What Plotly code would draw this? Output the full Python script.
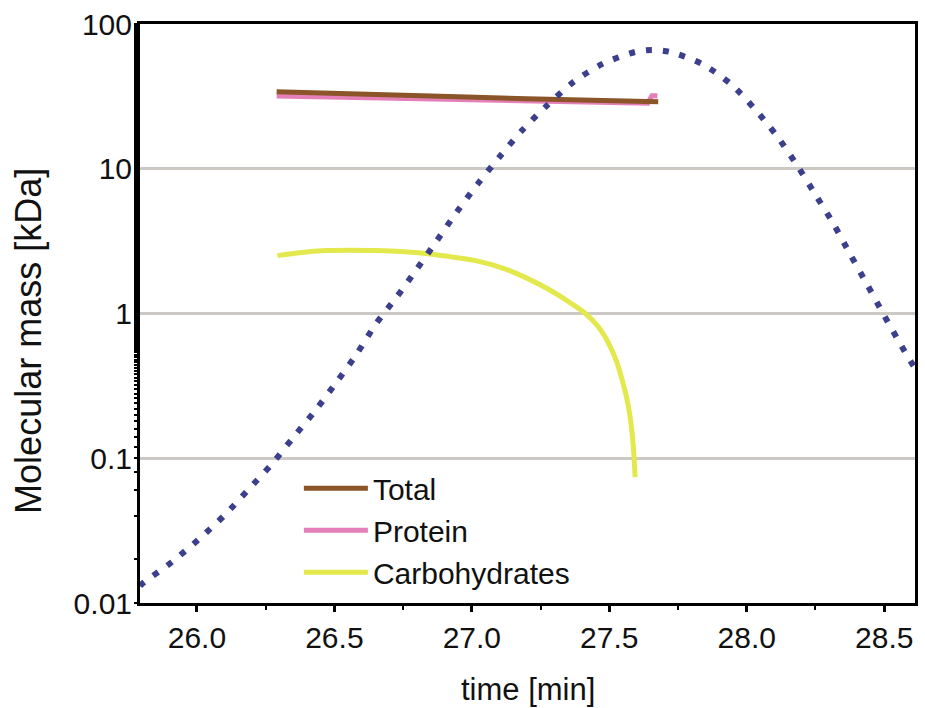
import plotly.graph_objects as go

# Retention-time axis (min) and molecular-mass estimates (kDa)
total_t = [26.29, 26.50, 26.75, 26.95, 27.20, 27.45, 27.678]
total_m = [34.0, 33.0, 32.2, 31.4, 30.5, 29.7, 29.0]

protein_t = [26.29, 26.50, 26.75, 26.95, 27.20, 27.45, 27.64, 27.655, 27.675]
protein_m = [31.8, 31.2, 30.5, 29.9, 29.3, 28.8, 28.4, 32.0, 32.0]

carb_t = [26.293, 26.38, 26.471, 26.56, 26.652, 26.74, 26.833, 26.92, 27.014, 27.109,
          27.196, 27.279, 27.351, 27.413, 27.460, 27.496, 27.525, 27.543, 27.562,
          27.576, 27.587, 27.594]
carb_m = [2.51, 2.64, 2.72, 2.74, 2.72, 2.68, 2.60, 2.47, 2.32, 2.07,
          1.77, 1.47, 1.21, 1.00, 0.81, 0.631, 0.474, 0.368, 0.268,
          0.192, 0.123, 0.074]

# Refractive-index trace (arbitrary units, log scale)
ri_t = [25.793, 25.804, 25.909, 26.007, 26.101, 26.185, 26.272, 26.351, 26.431, 26.507,
        26.580, 26.652, 26.728, 26.801, 26.873, 26.946, 27.022, 27.101, 27.185, 27.272,
        27.370, 27.475, 27.594, 27.656, 27.721, 27.837, 27.942, 28.029, 28.109, 28.181,
        28.250, 28.315, 28.377, 28.438, 28.500, 28.562, 28.594, 28.612]
ri_v = [0.0131, 0.01374, 0.0192, 0.0276, 0.0405, 0.0601, 0.0910, 0.1396, 0.2143, 0.334,
        0.521, 0.853, 1.31, 2.04, 3.19, 5.05, 7.88, 12.1, 18.6, 27.2,
        39.8, 53.0, 64.1, 66.2, 64.1, 53.0, 38.5, 25.9, 16.9, 10.7,
        6.62, 4.18, 2.55, 1.585, 0.968, 0.601, 0.474, 0.42]

x_ticks = [26.0, 26.5, 27.0, 27.5, 28.0, 28.5]
y_ticks = [0.01, 0.1, 1, 10, 100]
y_labels = ["0.01", "0.1", "1", "10", "100"]

FONT = "Liberation Sans, Arial, sans-serif"

fig = go.Figure()
fig.add_trace(go.Scatter(x=protein_t, y=protein_m, mode="lines", name="Protein",
                         legendrank=2, line=dict(color="#e47fb8", width=5)))
fig.add_trace(go.Scatter(x=total_t, y=total_m, mode="lines", name="Total",
                         legendrank=1, line=dict(color="#8b5429", width=5)))
fig.add_trace(go.Scatter(x=carb_t, y=carb_m, mode="lines", name="Carbohydrates",
                         legendrank=3,
                         line=dict(color="#e3e84c", width=5, shape="spline", smoothing=0.9)))
fig.add_trace(go.Scatter(x=ri_t, y=ri_v, mode="lines", showlegend=False,
                         line=dict(color="#3b3f8c", width=6, dash="6px,11px",
                                   shape="spline", smoothing=0.8)))

fig.update_layout(
    width=925, height=708,
    margin=dict(l=140, r=7, t=23, b=105),
    paper_bgcolor="white", plot_bgcolor="white",
    font=dict(family=FONT, size=30, color="#111111"),
    showlegend=True,
    legend=dict(x=0.205, y=0.243, xanchor="left", yanchor="top",
                bgcolor="rgba(0,0,0,0)", traceorder="normal",
                font=dict(size=30), itemwidth=64, tracegroupgap=0),
    xaxis=dict(range=[25.793, 28.612], tickvals=x_ticks, tickformat=".1f",
               tickfont=dict(size=30),
               showline=True, linecolor="black", linewidth=3, mirror=True,
               ticks="outside", ticklen=6, tickwidth=3, tickcolor="black",
               showgrid=False, zeroline=False,
               minor=dict(dtick=0.25, tick0=26.0, ticks="outside", ticklen=4,
                          tickwidth=2, tickcolor="black", showgrid=False)),
    yaxis=dict(type="log", range=[-2, 2], tickvals=y_ticks, ticktext=y_labels,
               tickfont=dict(size=30),
               showline=True, linecolor="black", linewidth=3, mirror=True,
               ticks="outside", ticklen=3, tickwidth=2, tickcolor="black",
               ticklabelstandoff=-4,
               showgrid=True, gridcolor="#ccc8c4", gridwidth=3, zeroline=False,
               minor=dict(ticks="outside", ticklen=3, tickwidth=2, tickcolor="black",
                          showgrid=False)),
    annotations=[
        dict(text="time [min]", xref="paper", yref="paper",
             x=0.5, y=(603 - 690) / 580, xanchor="center", yanchor="middle",
             showarrow=False, font=dict(size=31)),
        dict(text="Molecular mass [kDa]", xref="paper", yref="paper",
             x=(28 - 140) / 778, y=(603 - 340) / 580, xanchor="center", yanchor="middle",
             textangle=-90, showarrow=False, font=dict(size=36)),
    ],
)

fig.write_html("out.html")
